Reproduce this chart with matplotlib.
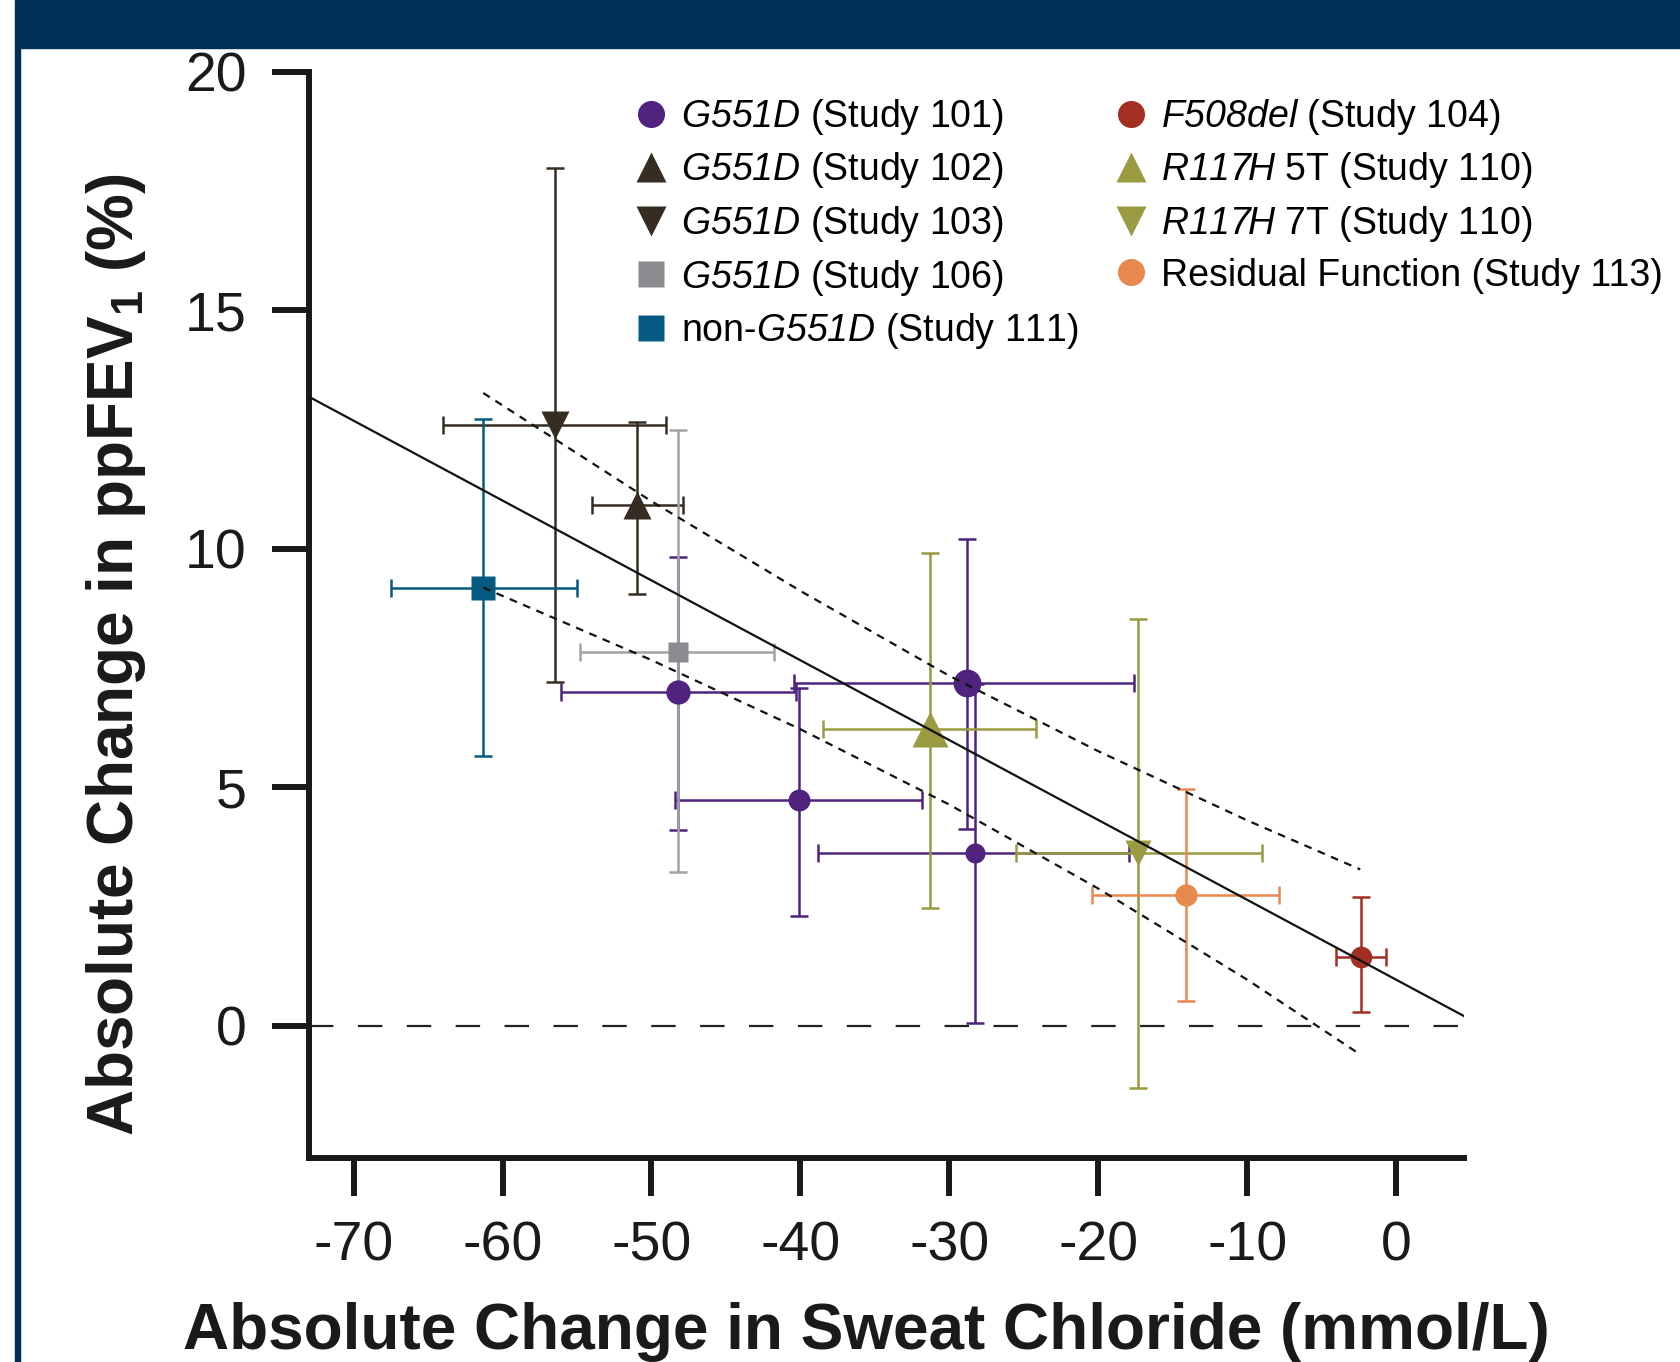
import numpy as np
import matplotlib
matplotlib.use("Agg")
import matplotlib.pyplot as plt
from matplotlib.lines import Line2D
from matplotlib.patches import Rectangle

plt.rcParams['font.family'] = ['Liberation Sans', 'DejaVu Sans']
plt.rcParams['axes.unicode_minus'] = False
# math mode is only used for the italic gene names (and the FEV1 subscript)
plt.rcParams['mathtext.fontset'] = 'custom'
plt.rcParams['mathtext.rm'] = 'Liberation Sans:italic'
plt.rcParams['mathtext.it'] = 'Liberation Sans:italic'
plt.rcParams['mathtext.bf'] = 'Liberation Sans:bold'

# ---- data ----
# one entry per plotted point
point_study = ['101', '101', '101', '101', '102', '103', '106', '111',
               '104', '110_5T', '110_7T', '113']
chloride = [-48.2, -40.1, -28.8, -28.3, -51.0, -56.5, -48.2, -61.3,
            -2.36, -31.3, -17.3, -14.1]
chloride_lo = [-56.1, -48.4, -40.4, -38.8, -54.0, -64.0, -54.8, -67.5,
               -4.04, -38.5, -25.5, -20.4]
chloride_hi = [-40.3, -31.8, -17.6, -17.95, -47.9, -49.0, -41.8, -55.0,
               -0.66, -24.2, -9.0, -7.85]
fev = [7.0, 4.74, 7.19, 3.62, 10.92, 12.6, 7.84, 9.19,
       1.45, 6.22, 3.62, 2.75]
fev_lo = [4.11, 2.31, 4.13, 0.07, 9.05, 7.21, 3.23, 5.65,
          0.3, 2.47, -1.3, 0.53]
fev_hi = [9.84, 7.08, 10.2, 7.17, 12.67, 17.98, 12.5, 12.72,
          2.7, 9.92, 8.54, 4.96]

# regression line and its confidence band
fit_slope = -0.1674
fit_intercept = 0.97
band_x = [-61.3, -50, -40, -30, -20, -10, -2.4]
band_upper = [13.27, 11.0, 9.12, 7.34, 5.76, 4.31, 3.28]
band_lower = [9.19, 7.67, 6.22, 4.64, 2.88, 0.97, -0.6]

xticks = [-70, -60, -50, -40, -30, -20, -10, 0]
yticks = [0, 5, 10, 15, 20]

# legend order (column-wise)
legend_studies = ['101', '102', '103', '106', '111', '104', '110_5T', '110_7T', '113']
legend_labels = [
    r'$G551D$ (Study 101)',
    r'$G551D$ (Study 102)',
    r'$G551D$ (Study 103)',
    r'$G551D$ (Study 106)',
    r'non-$G551D$ (Study 111)',
    r'$F508del$ (Study 104)',
    r'$R117H$ 5T (Study 110)',
    r'$R117H$ 7T (Study 110)',
    'Residual Function (Study 113)',
]

# ---- styles ----
study_marker = {'101': 'o', '102': '^', '103': 'v', '106': 's', '111': 's',
                '104': 'o', '110_5T': '^', '110_7T': 'v', '113': 'o'}
study_color = {'101': '#50237F', '102': '#352D21', '103': '#352D21',
               '106': '#8B8B90', '111': '#055A82', '104': '#A32F23',
               '110_5T': '#9A9A41', '110_7T': '#9A9A41', '113': '#E8894F'}
err_color = dict(study_color, **{'106': '#A2A2A7'})
point_size = [17.5, 15.8, 20, 14.4, 20.5, 20, 14, 17, 15.6, 26, 19, 16]
legend_size = {'o': 19.5, '^': 21, 'v': 21, 's': 19}

W, H = 1681, 1362
fig = plt.figure(figsize=(W / 100, H / 100), dpi=100)

# header band and left border
fig.patches.append(Rectangle((16 / W, 1 - 48 / H), 1, 48 / H,
                             transform=fig.transFigure, color='#002F56', zorder=0))
fig.patches.append(Rectangle((15 / W, 0), 5 / W, 1,
                             transform=fig.transFigure, color='#002F56', zorder=0))

ax = fig.add_axes([309 / W, 1 - 1158 / H, (1464.5 - 309) / W, (1158 - 72) / H])

for i, s in enumerate(point_study):
    x, y = chloride[i], fev[i]
    ax.errorbar(x, y,
                xerr=[[x - chloride_lo[i]], [chloride_hi[i] - x]],
                yerr=[[y - fev_lo[i]], [fev_hi[i] - y]],
                fmt='none', ecolor=err_color[s], elinewidth=1.8,
                capsize=6.3, capthick=1.8, zorder=2)
for i, s in enumerate(point_study):
    ax.plot(chloride[i], fev[i], marker=study_marker[s], ms=point_size[i],
            color=study_color[s], mec='none', ls='none', zorder=3)

xlim = (-73, 4.6)
ylim = (-2.77, 20)
fx = np.array(xlim)
ax.plot(fx, fit_intercept + fit_slope * fx, color='#111111', lw=1.6, zorder=4)
ax.plot(band_x, band_upper, color='#111111', lw=1.6, ls=(0, (3.5, 3)), zorder=4)
ax.plot(band_x, band_lower, color='#111111', lw=1.6, ls=(0, (3.5, 3)), zorder=4)
ax.axhline(0, color='#222222', lw=1.6, ls=(0, (11, 11)), zorder=1)

ax.set_xlim(*xlim)
ax.set_ylim(*ylim)
ax.set_xticks(xticks)
ax.set_yticks(yticks)
for sp in ['top', 'right']:
    ax.spines[sp].set_visible(False)
for sp in ['left', 'bottom']:
    ax.spines[sp].set_linewidth(4.3)
    ax.spines[sp].set_color('#1a1a1a')
    ax.spines[sp].set_capstyle('projecting')
ax.tick_params(direction='out', length=27, width=4.3, pad=18, labelsize=40,
               color='#1a1a1a', labelcolor='#1a1a1a')

fig.text(116 / W, 1 - 655 / H, r'Absolute Change in ppFEV$_\mathbf{1}$ (%)',
         rotation=90, ha='center', va='center', fontsize=46, fontweight='bold',
         color='#1a1a1a')
fig.text(866 / W, 1 - 1349 / H, 'Absolute Change in Sweat Chloride (mmol/L)',
         ha='center', va='baseline', fontsize=46, fontweight='bold', color='#1a1a1a')

handles = [Line2D([], [], marker=study_marker[s], color=study_color[s], mec='none',
                  ls='none', ms=legend_size[study_marker[s]]) for s in legend_studies]
fig.legend(handles, legend_labels, ncol=2, loc='upper left',
           bbox_to_anchor=(632 / W, 1 - 97 / H), frameon=False, fontsize=27,
           borderpad=0, handlelength=1.0, handletextpad=0.3, columnspacing=0.9,
           labelspacing=0.36, borderaxespad=0)

fig.savefig('out.png', dpi=100, facecolor='white')
